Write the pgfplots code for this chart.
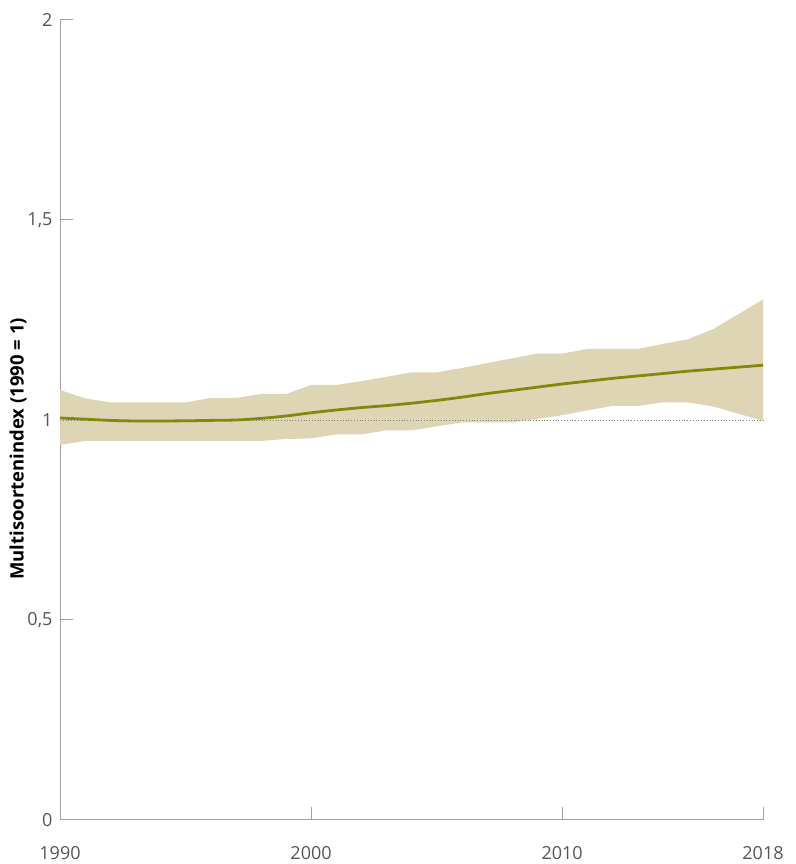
\documentclass[border=0pt]{standalone}
\usepackage{fontspec}
\setmainfont{Open Sans}
\usepackage{pgfplots}
\pgfplotsset{compat=1.18}
\usepgfplotslibrary{fillbetween}
\definecolor{band}{HTML}{DDD5B4}
\definecolor{olive}{HTML}{7F8A0A}
\definecolor{axgrey}{HTML}{A0A0A0}
\definecolor{txtgrey}{HTML}{555555}
\begin{document}
\begin{tikzpicture}
\begin{axis}[
  scale only axis,
  width=703pt, height=800pt,
  xmin=1990, xmax=2018, ymin=0, ymax=2,
  axis lines=left,
  axis line style={draw=axgrey, line width=1pt, -},
  xtick={1990,2000,2010,2018},
  ytick={0,0.5,1,1.5,2},
  yticklabels={0,{0,5},1,{1,5},2},
  xticklabel={\pgfmathprintnumber[set thousands separator={}, fixed]{\tick}},
  /pgf/number format/assume math mode=true,
  tick style={draw=axgrey, line width=1pt},
  tick align=inside,
  major tick length=13pt,
  ticklabel style={font=\fontsize{18}{20}\selectfont, text=txtgrey},
  xticklabel style={yshift=-23pt},
  yticklabel style={xshift=-4pt},
  ylabel={Multisoortenindex (1990 = 1)},
  ylabel style={font=\bfseries\fontsize{18.5}{20}\selectfont, text=black, at={(axis description cs:-0.0597,0.464)}, anchor=center},
  clip=false,
]
\addplot[name path=lower, draw=none, forget plot] coordinates {
(1990,0.9375) (1991,0.9475) (1992,0.9475) (1993,0.9475) (1994,0.9475) (1995,0.9475)
(1996,0.9475) (1997,0.9475) (1998,0.9475) (1999,0.9525) (2000,0.954) (2001,0.964)
(2002,0.964) (2003,0.974) (2004,0.974) (2005,0.984) (2006,0.994) (2007,0.994)
(2008,0.994) (2009,1.0025) (2010,1.012) (2011,1.024) (2012,1.035) (2013,1.035)
(2014,1.044) (2015,1.044) (2016,1.034) (2017,1.016) (2018,0.998)
};
\addplot[name path=upper, draw=none, forget plot] coordinates {
(1990,1.075) (1991,1.054) (1992,1.044) (1993,1.044) (1994,1.044) (1995,1.044)
(1996,1.055) (1997,1.055) (1998,1.065) (1999,1.065) (2000,1.0875) (2001,1.0875)
(2002,1.097) (2003,1.108) (2004,1.119) (2005,1.119) (2006,1.13) (2007,1.142)
(2008,1.154) (2009,1.166) (2010,1.166) (2011,1.1775) (2012,1.1775) (2013,1.1775)
(2014,1.19) (2015,1.2017) (2016,1.2267) (2017,1.264) (2018,1.3017)
};
\addplot[fill=band, draw=none] fill between[of=upper and lower];
\addplot[draw=gray, dotted, line width=0.8pt] coordinates {(1990,1) (2018,1)};
\addplot[draw=olive, line width=2.8pt, smooth] coordinates {
(1990,1.005) (1991,1.002) (1992,0.999) (1993,0.9975) (1994,0.9975) (1995,0.998)
(1996,0.999) (1997,1.000) (1998,1.004) (1999,1.010) (2000,1.018) (2001,1.025)
(2002,1.031) (2003,1.036) (2004,1.042) (2005,1.049) (2006,1.057) (2007,1.066)
(2008,1.074) (2009,1.082) (2010,1.090) (2011,1.097) (2012,1.104) (2013,1.110)
(2014,1.116) (2015,1.122) (2016,1.127) (2017,1.132) (2018,1.137)
};
\end{axis}
\useasboundingbox (-60pt,-44pt) rectangle (735pt,820pt);
\end{tikzpicture}
\end{document}
